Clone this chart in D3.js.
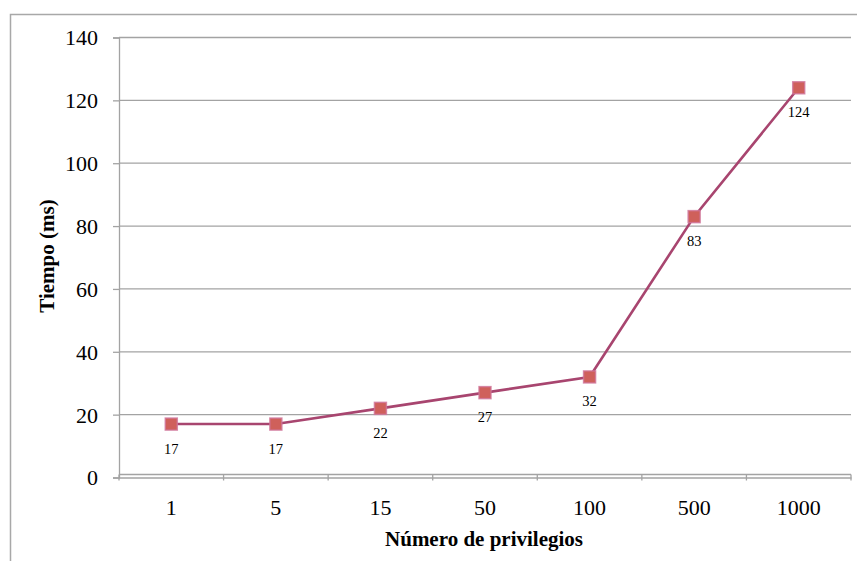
<!DOCTYPE html>
<html>
<head>
<meta charset="utf-8">
<script src="https://cdn.jsdelivr.net/npm/d3@7"></script>
<style>
  html, body { margin: 0; padding: 0; background: #fff; }
  svg { display: block; }
</style>
</head>
<body>
<svg id="chart" width="857" height="561"></svg>
<script>
const categories = ["1", "5", "15", "50", "100", "500", "1000"];
const values = [17, 17, 22, 27, 32, 83, 124];
const yTicks = [0, 20, 40, 60, 80, 100, 120, 140];
const xTitle = "Número de privilegios";
const yTitle = "Tiempo (ms)";

(function () {
const svg = d3.select("#chart");
const font = "'Liberation Serif', 'Times New Roman', serif";
const gridColor = "#a3a3a3";

// outer border
svg.append("rect")
  .attr("x", 10.5).attr("y", 14.5)
  .attr("width", 900).attr("height", 600)
  .attr("fill", "none").attr("stroke", "#a8a8a8").attr("stroke-width", 1.5);

const pLeft = 119, pRight = 851, pTop = 37.5, pBottom = 477.5;

const x = d3.scaleBand().domain(categories).range([pLeft, pRight]).padding(0);
const y = d3.scaleLinear().domain([0, 140]).range([pBottom, pTop]);

// gridlines
svg.append("g").selectAll("line").data(yTicks.filter(d => d > 0)).join("line")
  .attr("x1", pLeft).attr("x2", pRight)
  .attr("y1", d => y(d)).attr("y2", d => y(d))
  .attr("stroke", gridColor).attr("stroke-width", 1.3);

// extra line above axis (double-line look)
svg.append("line")
  .attr("x1", pLeft).attr("x2", pRight)
  .attr("y1", y(0) - 3).attr("y2", y(0) - 3)
  .attr("stroke", gridColor).attr("stroke-width", 1.3);

// y axis
const yAxis = d3.axisLeft(y).tickValues(yTicks).tickSize(6).tickPadding(15).tickFormat(d3.format("d"));
const gy = svg.append("g").attr("transform", `translate(${pLeft},0)`).call(yAxis);
gy.select(".domain").attr("stroke", gridColor).attr("stroke-width", 1.3);
gy.selectAll(".tick line").attr("stroke", gridColor).attr("stroke-width", 1.3);
gy.selectAll(".tick text").attr("font-family", font).attr("font-size", 22).attr("fill", "#000").attr("dy", "0.34em");

// x axis
const xAxis = d3.axisBottom(x).tickSize(0).tickPadding(22);
const gx = svg.append("g").attr("transform", `translate(0,${pBottom})`).call(xAxis);
gx.select(".domain").attr("stroke", gridColor).attr("stroke-width", 1.3);
gx.selectAll(".tick text").attr("font-family", font).attr("font-size", 22).attr("fill", "#000");
// x tick marks at category boundaries
const bounds = categories.map(c => x(c)).concat([x(categories[categories.length - 1]) + x.bandwidth()]);
gx.append("g").selectAll("line").data(bounds).join("line")
  .attr("x1", d => d).attr("x2", d => d)
  .attr("y1", -3).attr("y2", 3)
  .attr("stroke", gridColor).attr("stroke-width", 1.3);

// line
const cx = i => x(categories[i]) + x.bandwidth() / 2;
const line = d3.line().x((d, i) => cx(i)).y(d => y(d));
svg.append("path").datum(values)
  .attr("d", line)
  .attr("fill", "none").attr("stroke", "#a8456f").attr("stroke-width", 2.6);

// markers
svg.append("g").selectAll("rect").data(values).join("rect")
  .attr("x", (d, i) => cx(i) - 6).attr("y", d => y(d) - 6)
  .attr("width", 12).attr("height", 12)
  .attr("fill", "#cf605b").attr("stroke", "#d0749a").attr("stroke-opacity", 0.8).attr("stroke-width", 1.5);

// data labels
svg.append("g").selectAll("text").data(values).join("text")
  .attr("x", (d, i) => cx(i)).attr("y", d => y(d) + 29.5)
  .attr("text-anchor", "middle")
  .attr("font-family", font).attr("font-size", 14.5).attr("fill", "#000")
  .text(d => d);

// axis titles
svg.append("text")
  .attr("x", (pLeft + pRight) / 2 - 1).attr("y", 546)
  .attr("text-anchor", "middle")
  .attr("font-family", font).attr("font-size", 21).attr("font-weight", "bold")
  .text(xTitle);

svg.append("text")
  .attr("transform", `translate(54,256) rotate(-90)`)
  .attr("text-anchor", "middle")
  .attr("font-family", font).attr("font-size", 21).attr("font-weight", "bold")
  .text(yTitle);
})();
</script>
</body>
</html>
